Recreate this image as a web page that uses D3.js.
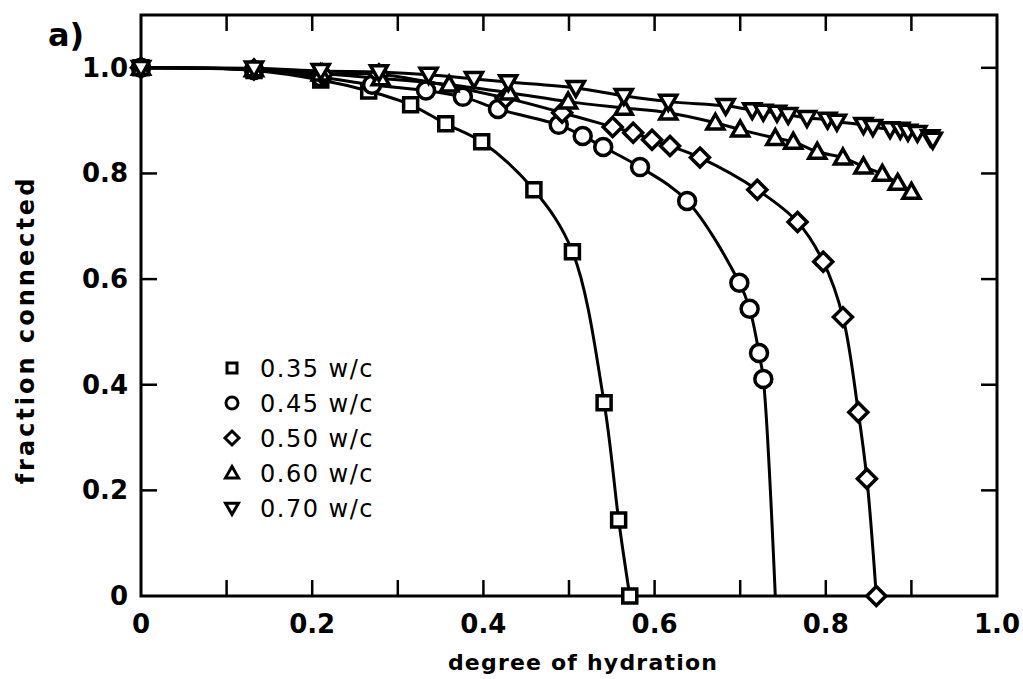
<!DOCTYPE html>
<html>
<head>
<meta charset="utf-8">
<script src="https://cdn.jsdelivr.net/npm/d3@7"></script>
<style>
body { margin: 0; background: #fff; }
text { font-family: "DejaVu Sans", sans-serif; fill: #000; }
</style>
</head>
<body>
<div id="chart"></div>
<script>
// axis ticks
const xTicks = [0, 0.2, 0.4, 0.6, 0.8, 1.0];
const xTickLabels = ["0", "0.2", "0.4", "0.6", "0.8", "1.0"];
const xMarks = [0.1, 0.2, 0.3, 0.4, 0.5, 0.6, 0.7, 0.8, 0.9];
const yTicks = [0, 0.2, 0.4, 0.6, 0.8, 1.0];
const yTickLabels = ["0", "0.2", "0.4", "0.6", "0.8", "1.0"];
const yMarks = [0.2, 0.4, 0.6, 0.8, 1.0];

// series
const seriesNames = ["0.35 w/c", "0.45 w/c", "0.50 w/c", "0.60 w/c", "0.70 w/c"];
const seriesShapes = ["square", "circle", "diamond", "triangleUp", "triangleDown"];

const hyd35 = [0, 0.132, 0.21, 0.266, 0.315, 0.356, 0.398, 0.459, 0.504, 0.541, 0.558, 0.571];
const frac35 = [1.0, 0.995, 0.977, 0.956, 0.930, 0.894, 0.860, 0.769, 0.652, 0.366, 0.144, 0.0];

const hyd45 = [0, 0.132, 0.21, 0.27, 0.333, 0.376, 0.417, 0.488, 0.516, 0.540, 0.583, 0.638, 0.699, 0.711, 0.722, 0.727];
const frac45 = [1.0, 0.996, 0.982, 0.968, 0.957, 0.945, 0.922, 0.892, 0.871, 0.850, 0.812, 0.748, 0.593, 0.544, 0.460, 0.411];
const tail45 = [0.741, 0.0]; // curve runs on to the axis without a marker

const hyd50 = [0, 0.132, 0.212, 0.278, 0.426, 0.492, 0.551, 0.575, 0.597, 0.618, 0.653, 0.72, 0.767, 0.797, 0.820, 0.838, 0.848, 0.859];
const frac50 = [1.0, 0.997, 0.988, 0.988, 0.943, 0.915, 0.888, 0.877, 0.864, 0.852, 0.830, 0.769, 0.708, 0.633, 0.528, 0.348, 0.222, 0.0];

const hyd60 = [0, 0.132, 0.21, 0.28, 0.36, 0.43, 0.499, 0.564, 0.616, 0.671, 0.700, 0.741, 0.762, 0.790, 0.820, 0.844, 0.866, 0.884, 0.900];
const frac60 = [1.0, 0.997, 0.989, 0.98, 0.968, 0.953, 0.936, 0.924, 0.915, 0.896, 0.883, 0.867, 0.860, 0.841, 0.830, 0.813, 0.799, 0.782, 0.765];

const hyd70 = [0, 0.132, 0.21, 0.278, 0.336, 0.389, 0.429, 0.508, 0.564, 0.616, 0.683, 0.714, 0.727, 0.743, 0.756, 0.778, 0.802, 0.813, 0.844, 0.855, 0.875, 0.887, 0.896, 0.907, 0.922, 0.925];
const frac70 = [1.0, 0.999, 0.994, 0.992, 0.987, 0.979, 0.973, 0.962, 0.947, 0.936, 0.928, 0.920, 0.917, 0.915, 0.911, 0.905, 0.902, 0.898, 0.892, 0.888, 0.884, 0.883, 0.879, 0.877, 0.869, 0.864];

const seriesX = [hyd35, hyd45, hyd50, hyd60, hyd70];
const seriesY = [frac35, frac45, frac50, frac60, frac70];

const w = 1023;
const h = 679;

const xScale = d3.scaleLinear().domain([0, 1]).range([141, 997]);
const yScale = d3.scaleLinear().domain([0, 1.1]).range([596, 15]);

const svg = d3.select("#chart")
    .append("svg")
    .attr("width", w)
    .attr("height", h);

function shapePath(shape, s) {
    if (shape == "square") return `M${-s},${-s}H${s}V${s}H${-s}Z`;
    if (shape == "circle") return `M${s},0A${s},${s} 0 1,1 ${-s},0A${s},${s} 0 1,1 ${s},0Z`;
    if (shape == "diamond") return `M0,${-s}L${s},0L0,${s}L${-s},0Z`;
    if (shape == "triangleUp") return `M0,${-s}L${s},${s * 0.75}L${-s},${s * 0.75}Z`;
    return `M0,${s}L${s},${-s * 0.75}L${-s},${-s * 0.75}Z`;
}
const markerSize = {square: 7, circle: 8.5, diamond: 9.5, triangleUp: 8.5, triangleDown: 8.5};
const legendSize = {square: 5, circle: 6, diamond: 7, triangleUp: 6.5, triangleDown: 6.5};

// frame
svg.append("rect")
    .attr("x", xScale(0))
    .attr("y", yScale(1.1))
    .attr("width", xScale(1) - xScale(0))
    .attr("height", yScale(0) - yScale(1.1))
    .attr("fill", "none")
    .attr("stroke", "#000")
    .attr("stroke-width", 3);

// inward ticks, bottom and top
const tickLen = 16;
svg.selectAll(".xb").data(xMarks).enter().append("line")
    .attr("x1", d => xScale(d)).attr("x2", d => xScale(d))
    .attr("y1", yScale(0)).attr("y2", yScale(0) - tickLen)
    .attr("stroke", "#000").attr("stroke-width", 2.5);
svg.selectAll(".xt").data(xMarks).enter().append("line")
    .attr("x1", d => xScale(d)).attr("x2", d => xScale(d))
    .attr("y1", yScale(1.1)).attr("y2", yScale(1.1) + tickLen)
    .attr("stroke", "#000").attr("stroke-width", 2.5);
svg.selectAll(".yl").data(yMarks).enter().append("line")
    .attr("x1", xScale(0)).attr("x2", xScale(0) + tickLen)
    .attr("y1", d => yScale(d)).attr("y2", d => yScale(d))
    .attr("stroke", "#000").attr("stroke-width", 2.5);
svg.selectAll(".yr").data(yMarks).enter().append("line")
    .attr("x1", xScale(1)).attr("x2", xScale(1) - tickLen)
    .attr("y1", d => yScale(d)).attr("y2", d => yScale(d))
    .attr("stroke", "#000").attr("stroke-width", 2.5);

// tick labels
svg.selectAll(".xlab").data(xTicks).enter().append("text")
    .attr("x", d => xScale(d))
    .attr("y", 633)
    .attr("text-anchor", "middle")
    .style("font-size", "26px")
    .style("font-weight", "bold")
    .text((d, i) => xTickLabels[i]);
svg.selectAll(".ylab").data(yTicks).enter().append("text")
    .attr("x", 128)
    .attr("y", d => yScale(d) + 9)
    .attr("text-anchor", "end")
    .style("font-size", "26px")
    .style("font-weight", "bold")
    .text((d, i) => yTickLabels[i]);

// axis titles
svg.append("text")
    .attr("x", 583)
    .attr("y", 670)
    .attr("text-anchor", "middle")
    .style("font-size", "22px")
    .style("font-weight", "bold")
    .style("letter-spacing", "1.2px")
    .text("degree of hydration");
svg.append("text")
    .attr("transform", "translate(34,330) rotate(-90)")
    .attr("text-anchor", "middle")
    .style("font-size", "24px")
    .style("font-weight", "bold")
    .style("letter-spacing", "3px")
    .text("fraction connected");
svg.append("text")
    .attr("x", 48)
    .attr("y", 46)
    .style("font-size", "32px")
    .style("font-weight", "bold")
    .text("a)");

// curves
const line = d3.line()
    .x(d => xScale(d[0]))
    .y(d => yScale(d[1]))
    .curve(d3.curveCatmullRom.alpha(0.5));

seriesX.forEach((xs, i) => {
    var pts = xs.map((x, j) => [x, seriesY[i][j]]);
    if (i == 1) pts.push(tail45);
    svg.append("path")
        .attr("d", line(pts))
        .attr("fill", "none")
        .attr("stroke", "#000")
        .attr("stroke-width", 3);
});

// markers
seriesX.forEach((xs, i) => {
    var shape = seriesShapes[i];
    svg.selectAll(".m" + i)
        .data(xs.map((x, j) => [x, seriesY[i][j]]))
        .enter()
        .append("path")
        .attr("d", shapePath(shape, markerSize[shape]))
        .attr("transform", d => "translate(" + xScale(d[0]) + "," + yScale(d[1]) + ")")
        .attr("fill", "#fff")
        .attr("stroke", "#000")
        .attr("stroke-width", 3.5);
});

// legend
const legend = svg.append("g").attr("transform", "translate(232,368)");
seriesNames.forEach((name, i) => {
    var shape = seriesShapes[i];
    legend.append("path")
        .attr("d", shapePath(shape, legendSize[shape]))
        .attr("transform", "translate(0," + (i * 35) + ")")
        .attr("fill", "#fff")
        .attr("stroke", "#000")
        .attr("stroke-width", 3);
    legend.append("text")
        .attr("x", 28)
        .attr("y", i * 35 + 9)
        .style("font-size", "24px")
        .style("font-weight", "500")
        .style("letter-spacing", "1.5px")
        .text(name);
});
</script>
</body>
</html>
